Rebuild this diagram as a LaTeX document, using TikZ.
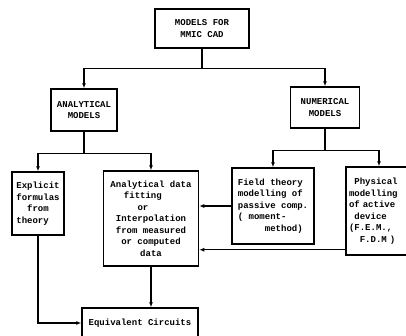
\documentclass[tikz,border=0pt]{standalone}
\usepackage{fontspec}
\setmonofont{Liberation Mono}
\usepackage{tikz}
\usetikzlibrary{positioning,arrows.meta}

\begin{document}
\begin{tikzpicture}[x=1pt,y=1pt,on grid,>={Latex[length=5pt,width=4pt]},
  box/.style={draw,line width=1.5pt,align=center,inner sep=2pt,
    font=\ttfamily\bfseries\fontsize{9}{11.5}\selectfont},
  wire/.style={line width=1.3pt}]

 \useasboundingbox (0,0) rectangle (406,-335);

 \node[box,minimum width=94pt,minimum height=39pt] (mod) at (202,-28.5) {MODELS FOR\\MMIC CAD};
 \node[box,minimum width=66pt,minimum height=42pt] (ana) [below left=81.5pt and 118pt of mod] {ANALYTICAL\\MODELS};
 \node[box,minimum width=69pt,minimum height=41pt] (num) [below right=79pt and 123pt of mod] {NUMERICAL\\MODELS};
 \node[box,align=left,minimum width=52pt,minimum height=63pt] (expl) [below left=93.5pt and 46pt of ana]
   {Explicit\\formulas\\\phantom{xx}from\\theory};
 \node[box,minimum width=95pt,minimum height=95pt] (fit) [below right=108.5pt and 67pt of ana]
   {Analytical data\\fitting\phantom{xxx}\\or\phantom{xxx}\\Interpolation\\from measured\\or computed\\data};
 \node[box,align=left,minimum width=82pt,minimum height=76pt] (field) [below left=98.5pt and 52pt of num]
   {Field theory\\modelling of\\passive comp.\\( moment-\\\phantom{xxxxx}method)};
 \node[box,align=left,text width=60pt,inner xsep=3pt,minimum height=88pt] (phys) [below right=103.5pt and 54pt of num]
   {\phantom{x}Physical\\modelling\\of active\\\phantom{x}device\\(F.E.M.,\\\phantom{xx}F.D.M )};
 \node[box,minimum width=116pt,minimum height=30pt] (equiv) [below left=104.5pt and 11pt of fit] {Equivalent Circuits};

 \coordinate (pin) at ([yshift=6pt]phys.south west);
 \draw[wire,->] (mod.south) -- ++(0,-19.5) -| (ana.north);
 \draw[wire,->] (mod.south) -- ++(0,-19.5) -| (num.north);
 \draw[wire,->] (ana.south) -- ++(0,-22) -| (expl.north);
 \draw[wire,->] (ana.south) -- ++(0,-22) -| (fit.north);
 \draw[wire,->] (num.south) -- ++(0,-22) -| (field.north);
 \draw[wire,->] (num.south) -- ++(0,-22) -| (phys.north);
 \draw[wire,->] (field.west) -- (field.west -| fit.east);
 \draw[wire,->] (pin) -- (pin -| fit.east);
 \draw[wire,->] (fit.south) -- (fit.south |- equiv.north);
 \draw[wire,->] (expl.south) |- (equiv.west);
\end{tikzpicture}
\end{document}
